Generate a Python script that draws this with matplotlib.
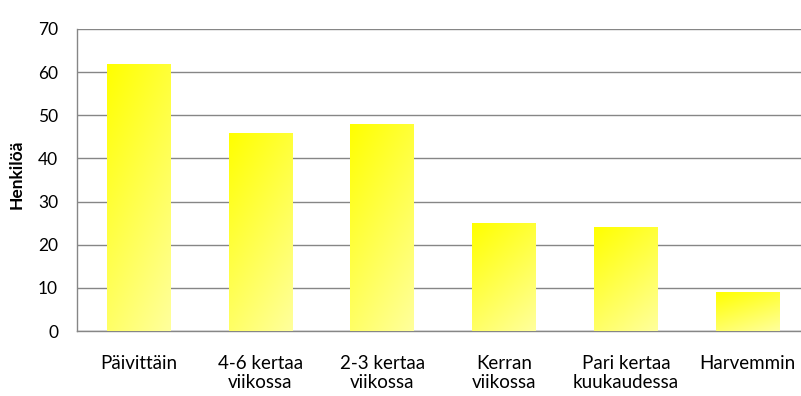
import numpy as np
import matplotlib
matplotlib.use("Agg")
import matplotlib.pyplot as plt
from matplotlib.colors import LinearSegmentedColormap

# data
categories = ["Päivittäin", "4-6 kertaa\nviikossa", "2-3 kertaa\nviikossa",
              "Kerran\nviikossa", "Pari kertaa\nkuukaudessa", "Harvemmin"]
values = [62, 46, 48, 25, 24, 9]
y_ticks = [0, 10, 20, 30, 40, 50, 60, 70]

plt.rcParams["font.family"] = ["Lato", "DejaVu Sans"]

fig = plt.figure(figsize=(8.01, 3.96), dpi=100)
# plot area runs slightly past the right edge of the image, as in the original
ax = fig.add_axes([0.0967, 0.164, 0.913, 0.7628])

x = np.arange(len(categories))
bars = ax.bar(x, values, width=0.52, color="none", edgecolor="none", zorder=3)

# diagonal yellow gradient inside each bar
cmap = LinearSegmentedColormap.from_list("yel", ["#FFFF00", "#FFFF9C"])
u, v = np.meshgrid(np.linspace(0, 1, 64), np.linspace(0, 1, 128))
grad = 0.35 * u + 0.65 * v  # v=0 at top (imshow origin upper)
for b in bars:
    x0, y0 = b.get_x(), b.get_y()
    w, h = b.get_width(), b.get_height()
    im = ax.imshow(grad, cmap=cmap, vmin=0, vmax=1, aspect="auto",
                   extent=[x0, x0 + w, y0, y0 + h], zorder=3)
    im.set_clip_path(b)

ax.set_xlim(-0.5, len(categories) - 0.5)
ax.set_ylim(0, 70)
ax.set_yticks(y_ticks)
ax.set_xticks(x)
ax.set_xticklabels(categories, fontsize=13.5, linespacing=1.2)
ax.tick_params(axis="y", length=0, pad=14, labelsize=12.5)
ax.tick_params(axis="x", length=0, pad=17)

ax.grid(axis="y", color="#868686", linewidth=1, zorder=0)
ax.set_axisbelow(True)
for s in ["top", "right"]:
    ax.spines[s].set_visible(False)
for s in ["left", "bottom"]:
    ax.spines[s].set_color("#868686")
    ax.spines[s].set_linewidth(1)

ax.set_ylabel("Henkilöä", fontsize=12.5, fontweight="bold")
ax.yaxis.set_label_coords(-0.072, 0.52)

fig.savefig("out.png", dpi=100)
